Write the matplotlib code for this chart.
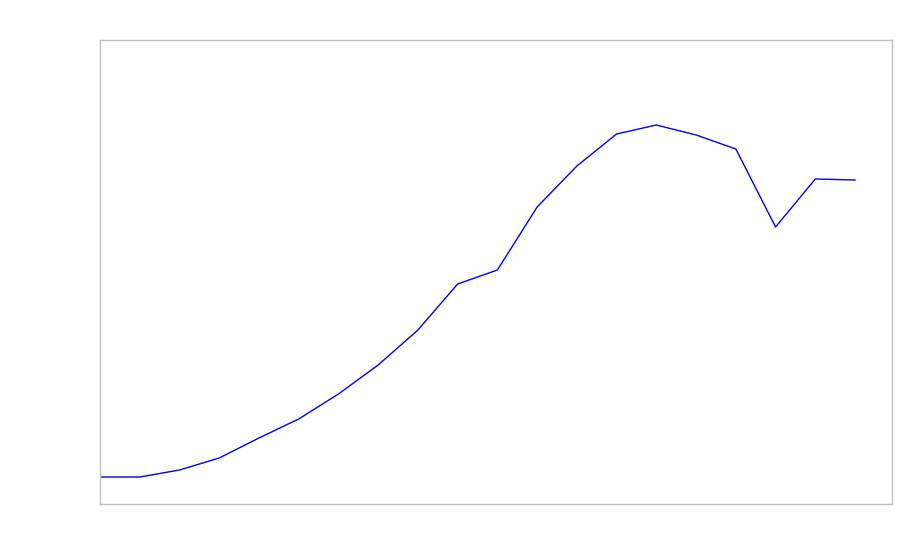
import matplotlib
matplotlib.use("Agg")
import matplotlib.pyplot as plt

# series (no labels shown on the chart)
steps = list(range(20))
values = [27, 27, 34, 46, 66, 85, 110, 139, 174, 220,
          234, 297, 338, 370, 379, 369, 355, 277, 325, 324]

fig = plt.figure(figsize=(9, 5.6), dpi=100)
ax = fig.add_axes([100 / 900, 56 / 560, 792 / 900, 464 / 560])

ax.plot(steps, values, color="#0000ff", linewidth=1)

ax.set_xlim(0, 19.93)
ax.set_ylim(0, 464)
ax.set_xticks([])
ax.set_yticks([])
for side in ax.spines.values():
    side.set_color("#c0c0c0")
    side.set_linewidth(1)

fig.savefig("out.png", dpi=100)
